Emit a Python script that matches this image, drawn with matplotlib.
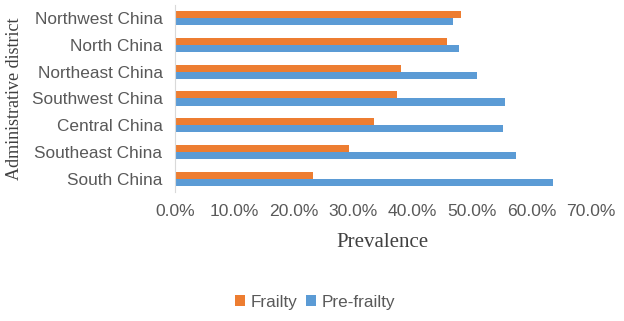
import numpy as np
import matplotlib.pyplot as plt

# Regions listed from top to bottom as in the chart
districts = ['Northwest China', 'North China', 'Northeast China', 'Southwest China',
             'Central China', 'Southeast China', 'South China']
frailty = [48.2, 45.8, 38.1, 37.4, 33.5, 29.3, 23.3]
pre_frailty = [46.8, 47.8, 50.9, 55.6, 55.2, 57.3, 63.6]
xticks = [0, 10, 20, 30, 40, 50, 60, 70]

ORANGE = '#ED7D31'
BLUE = '#5B9BD5'
GREY = '#595959'

fig = plt.figure(figsize=(6.24, 3.21), dpi=100)
ax = fig.add_axes([175 / 624, 1 - 192 / 321, (591 - 175) / 624, 187 / 321])

n = len(districts)
y = np.arange(n)[::-1]
h = 0.265
ax.barh(y + h / 2, frailty, height=h, color=ORANGE, label='Frailty')
ax.barh(y - h / 2, pre_frailty, height=h, color=BLUE, label='Pre-frailty')

ax.set_xlim(0, 70)
ax.set_ylim(-0.5, n - 0.5)
ax.set_yticks(y)
ax.set_yticklabels(districts, family='Liberation Sans', fontsize=12.4, color=GREY)
ax.set_xticks(xticks)
ax.set_xticklabels(['%.1f%%' % v for v in xticks], family='Liberation Sans',
                   fontsize=12.6, color=GREY)
ax.tick_params(length=0)
ax.tick_params(axis='y', pad=9)
ax.tick_params(axis='x', pad=9)

for s in ['top', 'right', 'bottom']:
    ax.spines[s].set_visible(False)
ax.spines['left'].set_color('#D9D9D9')

ax.set_xlabel('Prevalence', family='Liberation Serif', fontsize=15, color='#404040')
ax.set_ylabel('Administrative district', family='Liberation Serif', fontsize=13.1,
              color='#404040')
ax.xaxis.set_label_coords((382 - 175) / 416, (192 - 243) / 187)
ax.xaxis.label.set_va('center')
ax.yaxis.set_label_coords((15 - 175) / 416, 0.5)
ax.yaxis.label.set_va('center')

fig.legend(loc='center', bbox_to_anchor=(315 / 624, 1 - 302 / 321), ncol=2,
           frameon=False, handlelength=0.6, handleheight=0.6, handletextpad=0.3,
           columnspacing=0.5, prop={'family': 'Liberation Sans', 'size': 12.3},
           labelcolor=GREY)

fig.savefig('out.png', dpi=100)
